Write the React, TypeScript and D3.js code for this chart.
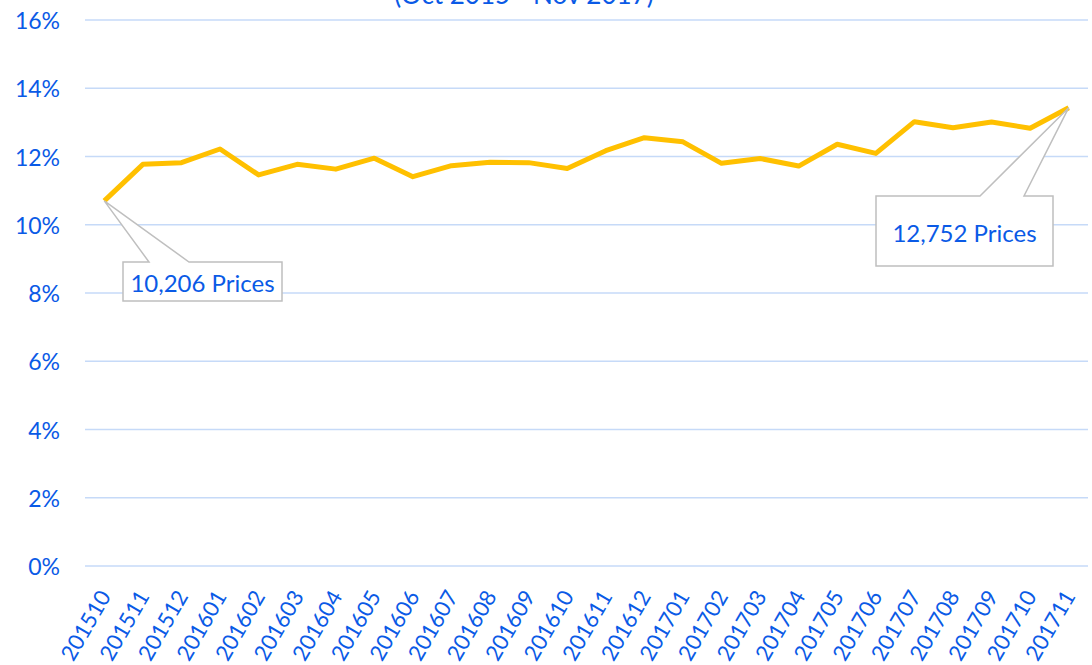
import React from "react";
import * as d3 from "d3";

const categories = ["201510","201511","201512","201601","201602","201603","201604","201605","201606","201607","201608","201609","201610","201611","201612","201701","201702","201703","201704","201705","201706","201707","201708","201709","201710","201711"];
const values = [10.70,11.77,11.82,12.22,11.46,11.77,11.63,11.95,11.41,11.73,11.83,11.82,11.65,12.17,12.55,12.43,11.80,11.94,11.72,12.36,12.09,13.02,12.84,13.01,12.83,13.43];
const yTicks = [0,2,4,6,8,10,12,14,16];
const title = "(Oct 2015 - Nov 2017)";
const callouts = [
  { index: 0, label: "10,206 Prices" },
  { index: 25, label: "12,752 Prices" },
];

const W = 1092, H = 665;
const left = 85, right = 1088, top = 20, bottom = 566;
const BLUE = "#0a5ae6";
const FONT = "Lato, 'Open Sans', sans-serif";

export default function App() {
  const x = d3.scaleBand<string>().domain(categories).range([left, right]);
  const y = d3.scaleLinear().domain([0, 16]).range([bottom, top]);
  const cx = (c: string) => (x(c) as number) + x.bandwidth() / 2;
  const line = d3.line<number>().x((_, i) => cx(categories[i])).y(d => y(d));

  const boxes = [
    { l: 123, t: 262, w: 159, h: 39, bl: 149, br: 189 },
    { l: 876, t: 196, w: 177, h: 70, bl: 980, br: 1024 },
  ];

  return (
    <svg width={W} height={H} style={{ position: "absolute", left: 0, top: 0, background: "#fff" }}>
      <text x={524} y={4} textAnchor="middle" fontFamily={FONT} fontSize={26} fill={BLUE}>{title}</text>
      {yTicks.map(t => (
        <g key={t}>
          <line x1={left} x2={right} y1={y(t)} y2={y(t)} stroke="#c6daf8" strokeWidth={1.5} />
          <text x={60} y={y(t)} textAnchor="end" dominantBaseline="central" fontFamily={FONT} fontSize={23} fill={BLUE}>{t}%</text>
        </g>
      ))}
      <path d={line(values) || ""} fill="none" stroke="#ffc000" strokeWidth={5} strokeLinejoin="round" />
      {categories.map(c => (
        <text key={c} transform={`translate(${cx(c)},592) rotate(-60)`} textAnchor="end" dominantBaseline="central" fontFamily={FONT} fontSize={22} fill={BLUE}>{c}</text>
      ))}
      {callouts.map((co, k) => {
        const b = boxes[k];
        const tx = cx(categories[co.index]);
        const ty = y(values[co.index]);
        const d = `M${b.l},${b.t} L${b.bl},${b.t} L${tx},${ty} L${b.br},${b.t} L${b.l + b.w},${b.t} L${b.l + b.w},${b.t + b.h} L${b.l},${b.t + b.h} Z`;
        return (
          <g key={k}>
            <path d={d} fill="#fff" stroke="#bfbfbf" strokeWidth={1.5} />
            <text x={b.l + b.w / 2} y={b.t + b.h / 2 + 1} textAnchor="middle" dominantBaseline="central" fontFamily={FONT} fontSize={24} fill={BLUE}>{co.label}</text>
          </g>
        );
      })}
    </svg>
  );
}
